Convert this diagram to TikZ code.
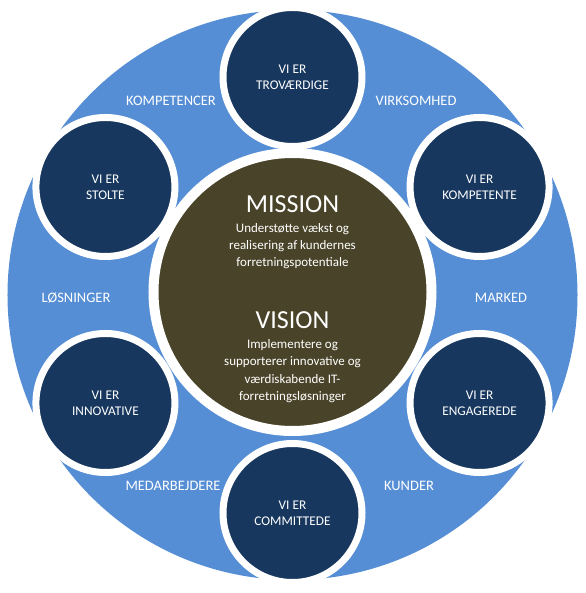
\documentclass[tikz,border=0pt]{standalone}
\usepackage{fontspec}
\setmainfont{Carlito}
\usetikzlibrary{positioning}
\definecolor{ringblue}{HTML}{558ED5}
\definecolor{valuenavy}{HTML}{17375E}
\definecolor{coreolive}{HTML}{494429}

\begin{document}
\begin{tikzpicture}[
        x=1pt, y=1pt,
        value/.style={circle, draw=white, fill=valuenavy, line width=7pt, minimum size=139pt, inner sep=0pt,
            text=white, align=center, font=\fontsize{13.3}{16}\selectfont},
        core/.style={circle, draw=white, fill=coreolive, line width=10pt, minimum size=278pt, inner sep=0pt},
        area/.style={text=white, font=\fontsize{14.5}{16}\selectfont},
        heading/.style={text=white, font=\fontsize{26}{28}\selectfont},
        body/.style={text=white, align=center, font=\fontsize{13}{17.3}\selectfont}
    ]
        \useasboundingbox (-292.5,-298) rectangle (292.5,295);

        % Ring
        \node[circle, fill=ringblue, minimum size=570pt, inner sep=0pt] (ring) at (0,0) {};

        % Core
        \node[core] (core) at (0,3) {};
        \node[heading] (mission) at (0,91) {MISSION};
        \node[body] (missiontext) at (0,49) {Understøtte vækst og\\realisering af kundernes\\forretningspotentiale};
        \node[heading] (vision) at (0,-25) {VISION};
        \node[body] (visiontext) at (0,-76) {Implementere og\\supporterer innovative og\\værdiskabende IT-\\forretningsløsninger};

        % Values
        \node[value] (trov) at (90:218) {VI ER\\TROVÆRDIGE};
        \node[value] (komp) at (30:216) {VI ER\\KOMPETENTE};
        \node[value] (enga) at (-30:216) {VI ER\\ENGAGEREDE};
        \node[value] (comm) at (-90:218) {VI ER\\COMMITTEDE};
        \node[value] (inno) at (-150:216) {VI ER\\INNOVATIVE};
        \node[value] (stol) at (150:216) {VI ER\\STOLTE};

        % Areas
        \node[area] (kompetencer) at (-121.5,194) {KOMPETENCER};
        \node[area] (virksomhed) at (123.5,194) {VIRKSOMHED};
        \node[area] (loesninger) at (-216.5,-3) {LØSNINGER};
        \node[area] (marked) at (208.5,-3) {MARKED};
        \node[area] (medarbejdere) at (-119.5,-191) {MEDARBEJDERE};
        \node[area] (kunder) at (116.5,-191) {KUNDER};

    \end{tikzpicture}
\end{document}
